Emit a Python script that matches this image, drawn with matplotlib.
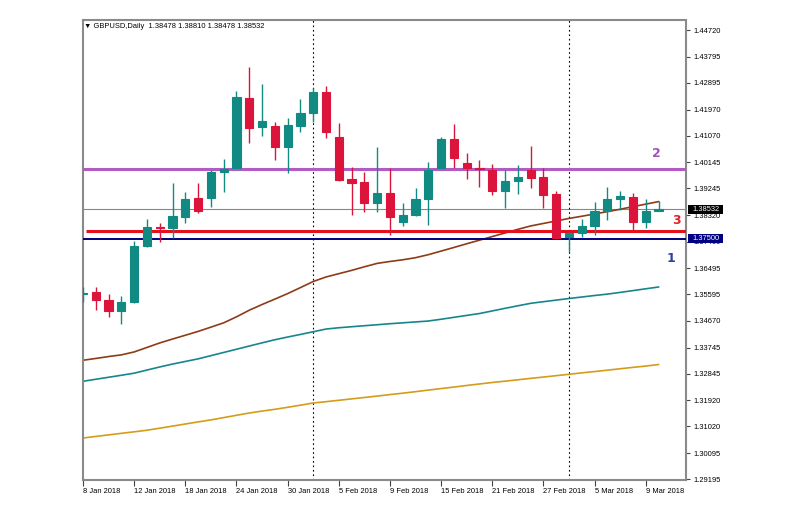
import matplotlib
matplotlib.use("Agg")
import matplotlib.pyplot as plt
import matplotlib.transforms as mtransforms
from matplotlib.patches import Rectangle
import pandas as pd

# ---------------- data ----------------
dates = pd.bdate_range("2018-01-08", "2018-03-12")

opens = [1.35600, 1.35650, 1.35408, 1.35013, 1.35325, 1.37261, 1.37908, 1.37873, 1.38264, 1.38911,
         1.38900, 1.39810, 1.39938, 1.42358, 1.41355, 1.41400, 1.40684, 1.41411, 1.41840, 1.42586,
         1.41030, 1.39557, 1.39474, 1.38727, 1.39094, 1.38091, 1.38323, 1.38876, 1.39938, 1.40940,
         1.40131, 1.39948, 1.39879, 1.39153, 1.39509, 1.39879, 1.39647, 1.39038, 1.37572, 1.37710,
         1.37942, 1.38461, 1.38866, 1.38935, 1.38070, 1.38478]
highs = [1.35830, 1.35843, 1.35615, 1.35522, 1.37424, 1.38195, 1.38036, 1.39419, 1.39128, 1.39419,
         1.39879, 1.40270, 1.42621, 1.43451, 1.42853, 1.41549, 1.41667, 1.42324, 1.42704, 1.42784,
         1.41494, 1.39993, 1.39820, 1.40664, 1.39938, 1.38748, 1.39246, 1.40145, 1.41030, 1.41470,
         1.40477, 1.40225, 1.40086, 1.39879, 1.40052, 1.40709, 1.39938, 1.39163, 1.37745, 1.38174,
         1.38783, 1.39281, 1.39153, 1.39094, 1.38866, 1.38810]
lows = [1.35310, 1.35038, 1.34806, 1.34578, 1.35300, 1.37226, 1.37399, 1.37517, 1.38036, 1.38402,
        1.38589, 1.39128, 1.39938, 1.40802, 1.41055, 1.40225, 1.39785, 1.41203, 1.41549, 1.40996,
        1.39500, 1.38323, 1.38437, 1.38437, 1.37631, 1.37942, 1.38300, 1.37977, 1.39938, 1.39938,
        1.39557, 1.39301, 1.39014, 1.38575, 1.39038, 1.39246, 1.38575, 1.37500, 1.37054, 1.37552,
        1.37631, 1.38150, 1.38496, 1.37804, 1.37884, 1.38478]
closes = [1.35630, 1.35383, 1.35013, 1.35338, 1.37261, 1.37918, 1.37873, 1.38288, 1.38886, 1.38451,
          1.39820, 1.39903, 1.42393, 1.41331, 1.41584, 1.40684, 1.41425, 1.41840, 1.42586, 1.41203,
          1.39533, 1.39419, 1.38748, 1.39073, 1.38264, 1.38323, 1.38876, 1.39879, 1.40940, 1.40283,
          1.39938, 1.39913, 1.39163, 1.39509, 1.39647, 1.39613, 1.39014, 1.37530, 1.37690, 1.37942,
          1.38461, 1.38866, 1.38980, 1.38070, 1.38461, 1.38532]

ma_brown = [1.33309, 1.33371, 1.33437, 1.33495, 1.33596, 1.33751, 1.33907, 1.34042, 1.34173, 1.34305,
            1.34453, 1.34602, 1.34809, 1.35038, 1.35235, 1.35421, 1.35612, 1.35819, 1.36030, 1.36186,
            1.36300, 1.36414, 1.36538, 1.36656, 1.36722, 1.36780, 1.36853, 1.36957, 1.37081, 1.37206,
            1.37334, 1.37458, 1.37583, 1.37707, 1.37832, 1.37949, 1.38036, 1.38122, 1.38209, 1.38285,
            1.38364, 1.38444, 1.38527, 1.38617, 1.38703, 1.38790]
ma_teal = [1.32582, 1.32652, 1.32721, 1.32790, 1.32862, 1.32970, 1.33077, 1.33177, 1.33267, 1.33357,
           1.33468, 1.33578, 1.33689, 1.33800, 1.33910, 1.34017, 1.34111, 1.34201, 1.34294, 1.34387,
           1.34432, 1.34467, 1.34502, 1.34536, 1.34571, 1.34602, 1.34633, 1.34664, 1.34726, 1.34792,
           1.34858, 1.34923, 1.35013, 1.35103, 1.35190, 1.35276, 1.35332, 1.35387, 1.35442, 1.35494,
           1.35546, 1.35594, 1.35653, 1.35715, 1.35778, 1.35840]
ma_gold = [1.30622, 1.30677, 1.30729, 1.30784, 1.30836, 1.30891, 1.30961, 1.31033, 1.31106, 1.31178,
           1.31248, 1.31327, 1.31407, 1.31486, 1.31552, 1.31614, 1.31683, 1.31756, 1.31832, 1.31877,
           1.31925, 1.31974, 1.32022, 1.32071, 1.32123, 1.32171, 1.32223, 1.32278, 1.32330, 1.32382,
           1.32437, 1.32489, 1.32541, 1.32586, 1.32634, 1.32683, 1.32728, 1.32776, 1.32824, 1.32873,
           1.32918, 1.32966, 1.33015, 1.33063, 1.33108, 1.33160]

level_2 = 1.39930
level_3 = 1.37780
level_1 = 1.37500
current_price = 1.38532

ytick_labels = ["1.44720", "1.43795", "1.42895", "1.41970", "1.41070", "1.40145", "1.39245",
                "1.38320", "1.37400", "1.36495", "1.35595", "1.34670", "1.33745", "1.32845",
                "1.31920", "1.31020", "1.30095", "1.29195"]
xtick_dates = ["2018-01-08", "2018-01-12", "2018-01-18", "2018-01-24", "2018-01-30", "2018-02-05",
               "2018-02-09", "2018-02-15", "2018-02-21", "2018-02-27", "2018-03-05", "2018-03-09"]
separator_dates = ["2018-02-01", "2018-03-01"]
title_text = "\u25bc GBPUSD,Daily  1.38478 1.38810 1.38478 1.38532"

# ---------------- style ----------------
BULL = "#128a84"
BEAR = "#dc143c"
FONT = ["Liberation Sans", "DejaVu Sans"]
FS = 5.4

fig = plt.figure(figsize=(8.0, 5.16), dpi=100)
W, H = 800, 516
AX_L, AX_R, AX_T, AX_B = 82.5, 686.0, 20.0, 480.0
ax = fig.add_axes([AX_L / W, 1 - AX_B / H, (AX_R - AX_L) / W, (AX_B - AX_T) / H])
AXW = AX_R - AX_L

idx = list(range(len(dates)))
date_pos = {d.strftime("%Y-%m-%d"): i for i, d in enumerate(dates)}

# moving averages
ax.plot(idx, ma_gold, color="#d49c1a", lw=1.2, zorder=2)
ax.plot(idx, ma_teal, color="#16868d", lw=1.2, zorder=2)
ax.plot(idx, ma_brown, color="#8e3b17", lw=1.2, zorder=2)

# horizontal levels
ax.axhline(current_price, color="#7f8a8a", lw=0.8, zorder=1)
ax.axhline(level_1, color="#000080", lw=1.4, zorder=3)
ax.axhline(level_2, color="#b35bc4", lw=2.2, zorder=3)
ax.plot([0.25, 47.2], [level_3, level_3], color="#e5101c", lw=2.2, zorder=3, solid_capstyle="butt")

# period separators
for d in separator_dates:
    ax.axvline(date_pos[d], color="black", lw=0.8, ls=(0, (1.5, 2.5)), zorder=1)

# candles
for i, (o, h, l, c) in enumerate(zip(opens, highs, lows, closes)):
    col = BULL if c >= o else BEAR
    ax.vlines(i, l, h, color=col, lw=1.0, zorder=4)
    ax.bar(i, abs(c - o), bottom=min(o, c), width=0.64, color=col,
           edgecolor=col, linewidth=0.8, zorder=5)

# number labels
ax.text(44.8, 1.40470, "2", color="#a052b8", fontsize=9, fontweight="bold",
        ha="center", va="center", family="DejaVu Sans", zorder=6)
ax.text(46.4, 1.38155, "3", color="#e0202a", fontsize=9, fontweight="bold",
        ha="center", va="center", family="DejaVu Sans", zorder=6)
ax.text(46.0, 1.36842, "1", color="#3040a0", fontsize=9, fontweight="bold",
        ha="center", va="center", family="DejaVu Sans", zorder=6)

# axes limits
ymin, ymax = 1.29171, 1.45066
ax.set_xlim(-0.04, 47.15)
ax.set_ylim(ymin, ymax)
px_per_price = (AX_B - AX_T) / (ymax - ymin)

# y axis on the right
ax.yaxis.tick_right()
ax.set_yticks([float(s) for s in ytick_labels])
ax.set_yticklabels(ytick_labels)
ax.tick_params(axis="y", direction="out", length=3, width=0.8, colors="#444444",
               labelcolor="black", labelsize=FS, pad=2)
for t in ax.get_yticklabels():
    t.set_family(FONT)

# x axis
ax.set_xticks([date_pos[d] for d in xtick_dates])
ax.set_xticklabels([f"{pd.Timestamp(d).day} {pd.Timestamp(d).strftime('%b %Y')}" for d in xtick_dates])
ax.tick_params(axis="x", direction="out", length=4, width=0.8, colors="#444444",
               labelcolor="black", labelsize=FS, pad=2)
for t in ax.get_xticklabels():
    t.set_family(FONT)
    t.set_ha("left")

for s in ax.spines.values():
    s.set_color("#8a8a8a")
    s.set_linewidth(1.5)

# price tags on right axis (box covers the underlying tick label like in MT4)
trans = mtransforms.blended_transform_factory(ax.transAxes, ax.transData)
box_h = 9.0 / px_per_price
for price, bg in [(current_price, "black"), (level_1, "#000080")]:
    ax.add_patch(Rectangle((1 + 1.5 / AXW, price - box_h / 2), 36.0 / AXW, box_h,
                           transform=trans, facecolor=bg, edgecolor=bg, lw=0,
                           clip_on=False, zorder=9))
    ax.text(1 + 6.0 / AXW, price, f"{price:.5f}", transform=trans, color="white", fontsize=FS,
            family=FONT, ha="left", va="center", zorder=10, clip_on=False)

# title
fig.text(84 / W, 1 - 26 / H, title_text, fontsize=FS, family=FONT, ha="left", va="center")

fig.savefig("out.png", dpi=100, facecolor="white")
